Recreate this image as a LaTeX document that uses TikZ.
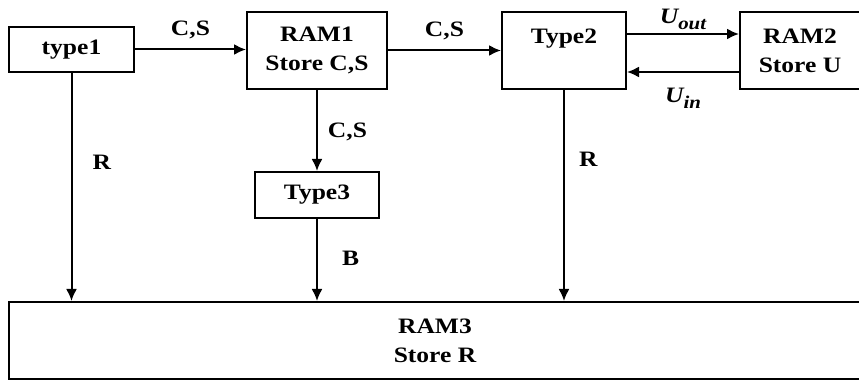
\documentclass[tikz,border=0pt]{standalone}
\usepackage{fontspec}
\setmainfont{Liberation Serif}[FakeStretch=1.16]
\usepackage{tikz}
\usetikzlibrary{arrows.meta}
\tikzset{blk/.style={draw,line width=1pt,inner sep=0pt,align=center},
  flow/.style={line width=1pt,-{Latex[length=6pt,width=5.5pt]}},
  lbl/.style={inner sep=0pt}}
\newcommand{\subtxt}[2]{\textit{#1\raisebox{-3pt}{\fontsize{9}{10}\selectfont #2}}}

\begin{document}
\begin{tikzpicture}[x=0.5pt,y=-0.5pt,font=\fontsize{11}{14.5}\selectfont\bfseries]
\clip(0,0)rectangle(859,383);
\node[blk,minimum width=62.5pt,minimum height=22.5pt](t1)at(71.5,49.5){type1};
\node[blk,minimum width=70pt,minimum height=38.5pt](ram1)at(317,50.5){RAM1\\Store C,S};
\node[blk,minimum width=62pt,minimum height=38.5pt](t2)at(564,50.5){Type2\\~};
\node[blk,minimum width=60pt,minimum height=38.5pt](ram2)at(800,50.5){RAM2\\Store U};
\node[blk,minimum width=62pt,minimum height=23pt](t3)at(317,195){Type3};
\node[blk,minimum width=426pt,minimum height=38.5pt](ram3)at(435,340.5){RAM3\\Store R};
\draw[flow](t1.east)--(t1.east-|ram1.west)node[lbl,midway,yshift=10pt]{C,S};
\draw[flow](ram1.east)--(t2.west)node[lbl,midway,yshift=10pt]{C,S};
\draw[flow]([yshift=8.25pt]t2.east)--([yshift=8.25pt]ram2.west)node[lbl,midway,yshift=7.5pt]{\subtxt{U}{out}};
\draw[flow]([yshift=-10.75pt]ram2.west)--([yshift=-10.75pt]t2.east)node[lbl,midway,yshift=-13pt]{\subtxt{U}{in}};
\draw[flow](ram1.south)--(t3.north)node[lbl,pos=0.52,right=5pt]{C,S};
\draw[flow](t1.south)--(t1.south|-ram3.north)node[lbl,pos=0.39,right=10pt]{R};
\draw[flow](t3.south)--(t3.south|-ram3.north)node[lbl,pos=0.48,right=12pt]{B};
\draw[flow](t2.south)--(t2.south|-ram3.north)node[lbl,pos=0.33,right=7pt]{R};
\end{tikzpicture}
\end{document}
